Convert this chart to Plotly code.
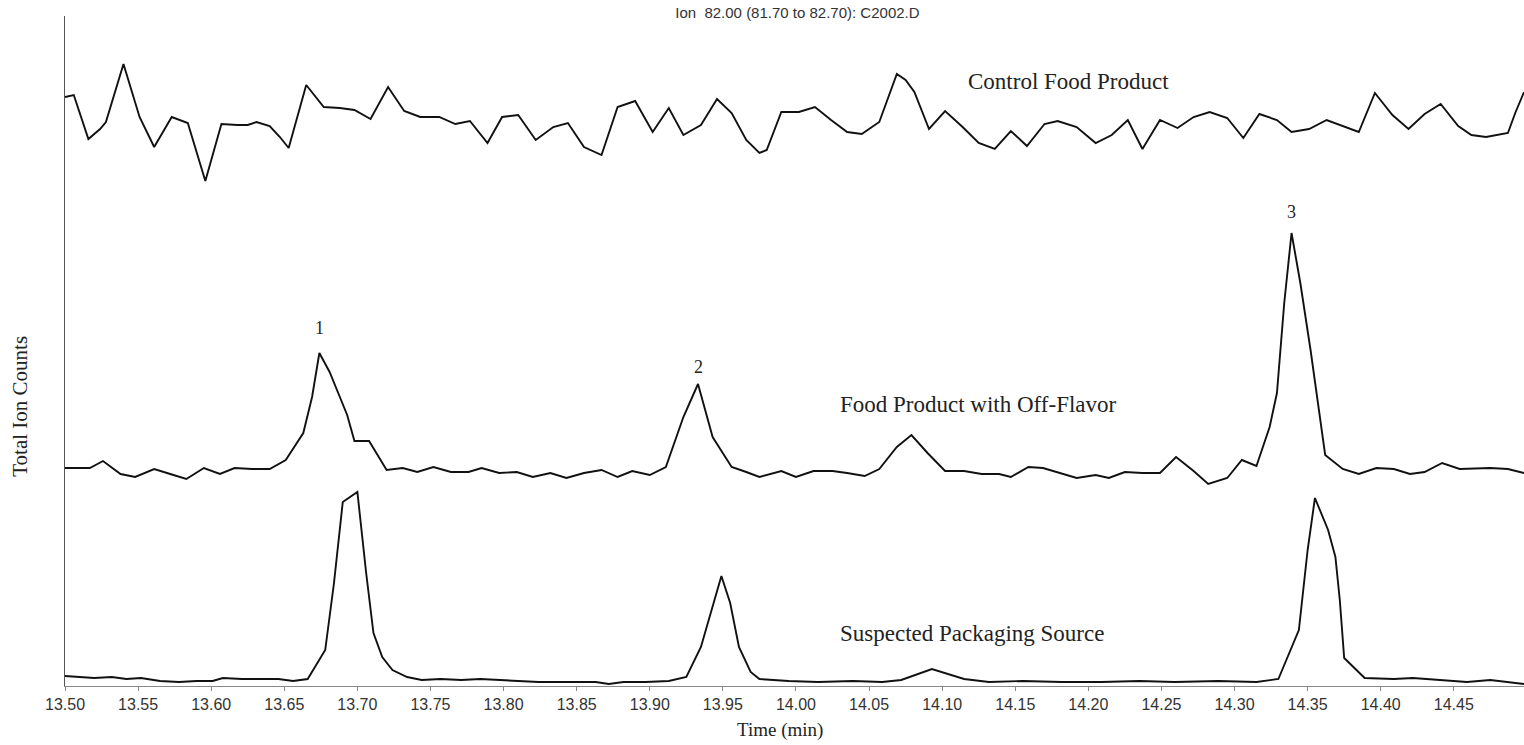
import plotly.graph_objects as go

# ---- data (retention time in min, relative ion counts) ----
control_time = [13.500, 13.506, 13.516, 13.524, 13.528, 13.540, 13.551, 13.561, 13.573, 13.584,
                13.596, 13.607, 13.618, 13.625, 13.631, 13.640, 13.647, 13.653, 13.665, 13.677,
                13.688, 13.698, 13.709, 13.721, 13.732, 13.743, 13.756, 13.767, 13.777, 13.789,
                13.799, 13.810, 13.822, 13.834, 13.844, 13.855, 13.867, 13.878, 13.890, 13.902,
                13.913, 13.923, 13.935, 13.946, 13.956, 13.966, 13.975,
                13.980, 13.990, 14.002, 14.013, 14.024, 14.035, 14.045, 14.057, 14.069, 14.075,
                14.081, 14.091, 14.102, 14.114, 14.125, 14.136, 14.147, 14.158, 14.170, 14.179,
                14.192, 14.205, 14.216, 14.227, 14.237, 14.249, 14.261, 14.272, 14.283, 14.295,
                14.306, 14.317, 14.329, 14.339, 14.351, 14.363, 14.374, 14.385, 14.396, 14.408,
                14.419, 14.430, 14.441, 14.453, 14.462, 14.472, 14.487, 14.492, 14.498]
control_counts = [589, 591, 547, 557, 564, 622, 569, 539, 569, 563,
                  505, 562, 561, 561, 564, 560, 549, 538, 601, 579,
                  578, 576, 567, 599, 575, 569, 569, 562, 565, 543,
                  569, 571, 546, 559, 563, 539, 531, 579, 585, 554,
                  578, 551, 561, 587, 573, 546, 533,
                  536, 574, 574, 579, 566, 554, 552, 564, 612, 606,
                  594, 557, 575, 559, 543, 537, 555, 540, 562, 565,
                  559, 543, 551, 566, 537, 566, 558, 569, 574, 568,
                  548, 572, 566, 554, 557, 566, 560, 554, 593, 571,
                  557, 572, 582, 560, 551, 549, 553, 573, 594]

offflavor_time = [13.500, 13.517, 13.526, 13.538, 13.548, 13.561, 13.572, 13.583, 13.595, 13.606,
                  13.616, 13.628, 13.640, 13.651, 13.663, 13.669, 13.674, 13.681, 13.688, 13.693,
                  13.698, 13.708, 13.720, 13.731, 13.741, 13.752, 13.764, 13.776, 13.785, 13.797,
                  13.809, 13.820, 13.832, 13.843, 13.855, 13.867, 13.878, 13.888, 13.900, 13.911,
                  13.923, 13.933, 13.943, 13.956, 13.966, 13.975,
                  13.990, 14.000, 14.012, 14.025, 14.035, 14.047, 14.057, 14.069, 14.079, 14.090,
                  14.102, 14.115, 14.127, 14.139, 14.147, 14.159, 14.169, 14.180, 14.192, 14.205,
                  14.214, 14.225, 14.237, 14.249, 14.260, 14.272, 14.282, 14.295, 14.305, 14.315,
                  14.324, 14.329, 14.334, 14.339, 14.345, 14.352, 14.357, 14.362, 14.374, 14.385,
                  14.397, 14.409, 14.420, 14.430, 14.442, 14.454, 14.475, 14.487, 14.498]
offflavor_counts = [218, 218, 225, 212, 209, 217, 212, 207, 218, 212,
                    218, 217, 217, 226, 253, 289, 333, 314, 289, 271,
                    245, 245, 216, 218, 214, 219, 214, 214, 218, 213,
                    214, 209, 213, 208, 213, 216, 209, 215, 211, 219,
                    269, 302, 249, 219, 214, 209,
                    215, 209, 215, 215, 213, 210, 217, 239, 251, 233,
                    215, 215, 212, 212, 209, 219, 218, 213, 208, 211,
                    208, 214, 213, 213, 229, 215, 202, 208, 226, 220,
                    259, 293, 383, 453, 403, 336, 286, 231, 217, 212,
                    218, 217, 212, 214, 223, 217, 218, 217, 213]

packaging_time = [13.500, 13.509, 13.520, 13.532, 13.542, 13.552, 13.565, 13.578, 13.590, 13.601,
                  13.608, 13.621, 13.635, 13.646, 13.656, 13.666, 13.678, 13.684, 13.690, 13.700,
                  13.706, 13.711, 13.717, 13.724, 13.734, 13.744, 13.757, 13.771, 13.784, 13.797,
                  13.810, 13.824, 13.837, 13.850, 13.863, 13.872, 13.882, 13.897, 13.913, 13.925,
                  13.935, 13.949, 13.955, 13.961, 13.969, 13.975,
                  13.995, 14.015, 14.039, 14.059, 14.072, 14.093, 14.115, 14.132, 14.155, 14.182,
                  14.209, 14.235, 14.259, 14.289, 14.315, 14.330, 14.344, 14.350, 14.355, 14.364,
                  14.369, 14.372, 14.375, 14.389, 14.409, 14.422, 14.442, 14.459, 14.475, 14.498]
packaging_counts = [10, 9, 8, 9, 7, 8, 5, 4, 5, 5,
                    8, 7, 7, 7, 5, 7, 36, 103, 184, 194,
                    113, 53, 29, 16, 9, 6, 7, 6, 7, 6,
                    5, 4, 4, 4, 4, 2, 4, 4, 5, 9,
                    39, 110, 83, 39, 14, 7,
                    5, 4, 5, 4, 6, 17, 7, 4, 5, 4,
                    4, 5, 4, 5, 4, 7, 56, 136, 188, 156,
                    129, 86, 28, 8, 7, 8, 6, 4, 6, 2]

trace_labels = ["Control Food Product", "Food Product with Off-Flavor", "Suspected Packaging Source"]
label_time = [14.116, 14.029, 14.029]
label_counts = [605, 282, 53]

peak_numbers = ["1", "2", "3"]
peak_time = [13.674, 13.933, 14.339]
peak_label_counts = [358, 319, 474]

tick_vals = [13.50, 13.55, 13.60, 13.65, 13.70, 13.75, 13.80, 13.85, 13.90, 13.95,
             14.00, 14.05, 14.10, 14.15, 14.20, 14.25, 14.30, 14.35, 14.40, 14.45]
tick_text = ["%.2f" % v for v in tick_vals]

title_text = "Ion  82.00 (81.70 to 82.70): C2002.D"
x_title = "Time (min)"
y_title = "Total Ion Counts"

# ---- figure ----
line_style = dict(color="#111111", width=1.9)
fig = go.Figure()
for t, c, name in [(control_time, control_counts, trace_labels[0]),
                   (offflavor_time, offflavor_counts, trace_labels[1]),
                   (packaging_time, packaging_counts, trace_labels[2])]:
    fig.add_trace(go.Scatter(x=t, y=c, mode="lines", line=line_style, name=name,
                             showlegend=False, hoverinfo="skip"))

serif = "Liberation Serif, Times New Roman, serif"
sans = "Liberation Sans, Arial, sans-serif"

annotations = []
for txt, tx, ty in zip(trace_labels, label_time, label_counts):
    annotations.append(dict(x=tx, y=ty, xref="x", yref="y", text=txt, showarrow=False,
                            xanchor="left", yanchor="middle",
                            font=dict(family=serif, size=23, color="#222")))
for txt, tx, ty in zip(peak_numbers, peak_time, peak_label_counts):
    annotations.append(dict(x=tx, y=ty, xref="x", yref="y", text=txt, showarrow=False,
                            xanchor="center", yanchor="middle",
                            font=dict(family=serif, size=18, color="#222")))
annotations.append(dict(x=13.989, y=-0.066, xref="x", yref="paper", text=x_title,
                        showarrow=False, xanchor="center", yanchor="middle",
                        font=dict(family=serif, size=19, color="#222")))
annotations.append(dict(x=-0.031, y=280, xref="paper", yref="y", text=y_title,
                        showarrow=False, textangle=-90, xanchor="center", yanchor="middle",
                        font=dict(family=serif, size=21, color="#222")))

fig.update_layout(
    width=1524, height=745,
    margin=dict(l=65, r=0, t=16, b=59),
    paper_bgcolor="white", plot_bgcolor="white",
    title=dict(text=title_text, x=0.502, xref="paper", xanchor="center",
               y=1 - 13 / 745, yref="container", yanchor="middle",
               font=dict(family=sans, size=15, color="#333")),
    annotations=annotations,
    xaxis=dict(range=[13.5, 14.498], tickvals=tick_vals, ticktext=tick_text,
               showgrid=False, zeroline=False, showline=True, linecolor="#888",
               linewidth=1, ticks="outside", ticklen=4, tickcolor="#888",
               tickfont=dict(family=sans, size=16, color="#333")),
    yaxis=dict(range=[0, 670], showticklabels=False, showgrid=False, zeroline=False,
               showline=True, linecolor="#555", linewidth=1, ticks=""),
)

fig.write_html("out.html")
